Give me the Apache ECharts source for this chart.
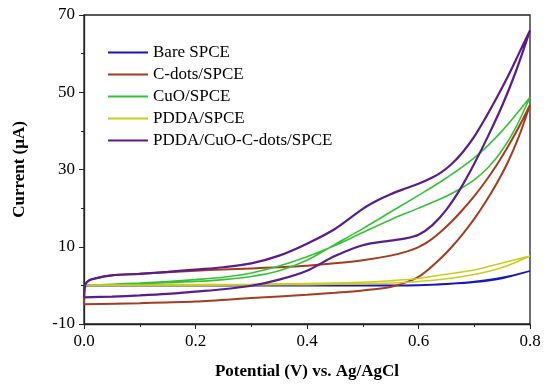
<!DOCTYPE html>
<html>
<head>
<meta charset="utf-8">
<script src="https://cdn.jsdelivr.net/npm/echarts@6/dist/echarts.min.js"></script>
<style>html,body{margin:0;padding:0;background:#fff;}#c{width:550px;height:387px;}</style>
</head>
<body>
<div id="c"></div>
<script>
// Series names (legend order)
const seriesNames = ['Bare SPCE', 'C-dots/SPCE', 'CuO/SPCE', 'PDDA/SPCE', 'PDDA/CuO-C-dots/SPCE'];

// Bare SPCE: forward then reverse sweep
const bareV = [0, 0.01, 0.1, 0.2, 0.3, 0.4, 0.5, 0.55, 0.6, 0.65, 0.7, 0.75, 0.8,
               0.75, 0.7, 0.65, 0.6, 0.5, 0.4, 0.3, 0.2, 0.1, 0.01, 0];
const bareI = [-0.5, 0, 0, 0, 0, 0, 0, 0, 0.1, 0.4, 1.0, 2.0, 3.7,
               1.8, 0.8, 0.3, 0, -0.1, -0.1, -0.1, -0.1, -0.1, -0.1, -0.5];

// C-dots/SPCE
const cdotsV = [0, 0.1, 0.2, 0.3, 0.4, 0.45, 0.5, 0.55, 0.58, 0.6, 0.62, 0.64, 0.66, 0.68, 0.7, 0.72, 0.74, 0.76, 0.78, 0.8,
                0.78, 0.76, 0.74, 0.72, 0.7, 0.68, 0.66, 0.64, 0.62, 0.6, 0.58, 0.55, 0.5, 0.45, 0.4, 0.35, 0.3, 0.25, 0.2, 0.15, 0.1, 0.05, 0.02, 0.008, 0.002, 0];
const cdotsI = [-4.9, -4.6, -4.2, -3.3, -2.4, -1.9, -1.3, -0.4, 0.9, 2.2, 4.4, 7.0, 10.0, 13.4, 17.2, 21.5, 26.3, 31.8, 38.5, 46.7,
                41.0, 35.8, 31.1, 26.9, 23.1, 19.7, 16.6, 13.9, 11.6, 9.9, 8.8, 7.7, 6.5, 5.7, 5.1, 4.7, 4.4, 4.1, 3.8, 3.4, 3.0, 2.6, 1.8, 1.2, 0, -4.9];

// CuO/SPCE
const cuoV = [0, 0.05, 0.1, 0.15, 0.2, 0.25, 0.3, 0.35, 0.4, 0.45, 0.5, 0.55, 0.6, 0.65, 0.7, 0.75, 0.8,
              0.775, 0.75, 0.725, 0.7, 0.675, 0.65, 0.6, 0.55, 0.5, 0.45, 0.4, 0.35, 0.3, 0.25, 0.2, 0.15, 0.1, 0.05, 0];
const cuoI = [0, 0.2, 0.4, 0.7, 1.0, 1.5, 2.3, 3.8, 6.5, 10.6, 14.7, 19.0, 23.3, 27.8, 33.0, 40.0, 48.7,
              41.0, 35.0, 30.5, 27.3, 25.0, 23.1, 20.0, 17.0, 13.7, 10.3, 7.4, 5.0, 3.2, 2.1, 1.5, 1.0, 0.6, 0.3, 0];

// PDDA/SPCE
const pddaV = [0, 0.01, 0.1, 0.2, 0.3, 0.4, 0.5, 0.55, 0.6, 0.65, 0.7, 0.75, 0.8,
               0.75, 0.7, 0.65, 0.6, 0.55, 0.5, 0.4, 0.3, 0.2, 0.1, 0.01, 0];
const pddaI = [-0.3, 0, 0, 0, 0.1, 0.2, 0.4, 0.6, 1.0, 1.7, 2.8, 4.6, 7.6,
               5.8, 4.0, 2.9, 1.8, 1.2, 0.8, 0.5, 0.3, 0.2, 0.1, 0.1, -0.3];

// PDDA/CuO-C-dots/SPCE
const compV = [0, 0.05, 0.1, 0.15, 0.2, 0.25, 0.3, 0.35, 0.4, 0.45, 0.5, 0.55, 0.575, 0.6, 0.625, 0.65, 0.675, 0.7, 0.725, 0.75, 0.775, 0.8,
               0.78, 0.76, 0.74, 0.72, 0.7, 0.68, 0.66, 0.64, 0.62, 0.6, 0.575, 0.55, 0.525, 0.5, 0.45, 0.4, 0.35, 0.3, 0.25, 0.2, 0.15, 0.1, 0.05, 0.02, 0.008, 0.002, 0];
const compI = [-3.1, -2.9, -2.6, -2.2, -1.6, -1.0, -0.1, 1.5, 3.8, 7.6, 10.4, 11.6, 12.1, 13.1, 15.6, 19.6, 25.0, 31.5, 38.7, 46.5, 55.5, 66,
               60, 54, 48.5, 43.3, 38.5, 34.6, 31.5, 29.2, 27.6, 26.3, 25.0, 23.6, 21.9, 19.8, 14.6, 10.8, 7.7, 5.7, 4.7, 4.1, 3.5, 3.0, 2.6, 1.8, 1.2, 0, -3.1];

// Axis ticks
const xTicks = { min: 0, max: 0.8, interval: 0.2 };
const yTicks = { min: -10, max: 70, interval: 20 };

const colors = ['#1414c8', '#a53c1e', '#36c236', '#cccc1e', '#5a1e8c'];
const widths = [1.6, 2, 1.6, 1.6, 2.2];
const pairs = (v, c) => v.map((x, i) => [x, c[i]]);
const allData = [pairs(bareV, bareI), pairs(cdotsV, cdotsI), pairs(cuoV, cuoI), pairs(pddaV, pddaI), pairs(compV, compI)];

const font = "'Liberation Serif', 'Times New Roman', serif";
const chart = echarts.init(document.getElementById('c'), null, { renderer: 'canvas' });
chart.setOption({
  animation: false,
  backgroundColor: '#fff',
  grid: { left: 84, right: 20, top: 15, bottom: 63, show: true, borderColor: '#222', borderWidth: 1.3, containLabel: false },
  legend: {
    orient: 'vertical', left: 103, top: 39,
    itemWidth: 40, itemHeight: 2, itemGap: 5, icon: 'rect',
    textStyle: { fontFamily: font, fontSize: 17, color: '#000' },
    data: seriesNames
  },
  xAxis: {
    type: 'value', min: xTicks.min, max: xTicks.max, interval: xTicks.interval,
    name: 'Potential (V) vs. Ag/AgCl', nameLocation: 'middle', nameGap: 39,
    nameTextStyle: { fontFamily: font, fontSize: 17, fontWeight: 'bold', color: '#000' },
    axisLine: { onZero: false, lineStyle: { color: '#222', width: 1.3 } },
    axisTick: { inside: false, length: 5, lineStyle: { color: '#222' } },
    minorTick: { show: true, splitNumber: 2, length: 3, lineStyle: { color: '#222' } },
    splitLine: { show: false },
    axisLabel: { fontFamily: font, fontSize: 17, color: '#000', margin: 9, formatter: v => v.toFixed(1) }
  },
  yAxis: {
    type: 'value', min: yTicks.min, max: yTicks.max, interval: yTicks.interval,
    name: 'Current (\u03BCA)', nameLocation: 'middle', nameGap: 56,
    nameTextStyle: { fontFamily: font, fontSize: 17, fontWeight: 'bold', color: '#000' },
    axisLine: { onZero: false, lineStyle: { color: '#222', width: 1.3 } },
    axisTick: { inside: false, length: 5, lineStyle: { color: '#222' } },
    minorTick: { show: true, splitNumber: 2, length: 3, lineStyle: { color: '#222' } },
    splitLine: { show: false },
    axisLabel: { fontFamily: font, fontSize: 17, color: '#000', margin: 9 }
  },
  series: seriesNames.map((n, k) => ({
    name: n, type: 'line', data: allData[k], showSymbol: false, symbol: 'none',
    smooth: 0.3, smoothMonotone: 'none',
    lineStyle: { color: colors[k], width: widths[k] },
    itemStyle: { color: colors[k] },
    z: 2 + k
  }))
});
</script>
</body>
</html>
